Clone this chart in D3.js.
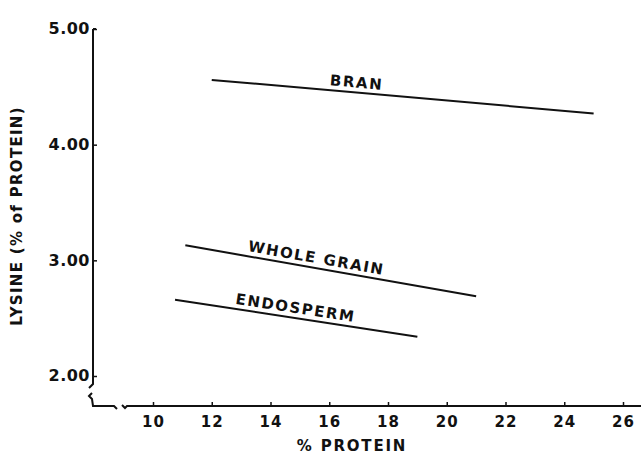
<!DOCTYPE html>
<html>
<head>
<meta charset="utf-8">
<script src="https://cdn.jsdelivr.net/npm/d3@7/dist/d3.min.js"></script>
<style>
  body { margin: 0; background: #fff; }
  text { font-family: "DejaVu Sans", sans-serif; font-weight: bold; fill: #111; }
</style>
</head>
<body>
<div id="chart"></div>
<script>
// series (lysine vs protein, straight regression lines)
var seriesNames = ["BRAN", "WHOLE GRAIN", "ENDOSPERM"];
var proteinStart = [12.0, 11.1, 10.75];
var proteinEnd = [25.0, 21.0, 19.0];
var lysineStart = [4.56, 3.13, 2.66];
var lysineEnd = [4.27, 2.69, 2.34];
var labelAt = [16.9, 15.5, 14.8];

var xTicks = [10, 12, 14, 16, 18, 20, 22, 24, 26];
var yTicks = [2, 3, 4, 5];

var width = 644, height = 456;

var x = d3.scaleLinear().domain([10, 26]).range([153, 623]);
var y = d3.scaleLinear().domain([2, 5]).range([376, 29]);

var svg = d3.select("#chart").append("svg")
    .attr("width", width)
    .attr("height", height);

var axisX0 = 93, axisY0 = 406;

// y axis ticks and labels
var yAxis = d3.axisLeft(y)
    .tickValues(yTicks)
    .tickFormat(d3.format(".2f"))
    .tickSizeInner(-4)
    .tickSizeOuter(0)
    .tickPadding(3);

var gy = svg.append("g")
    .attr("transform", "translate(" + axisX0 + ",0)")
    .call(yAxis);
gy.select(".domain").remove();
gy.selectAll("line").attr("stroke", "#111").attr("stroke-width", 1.5);
gy.selectAll("text")
    .style("font-size", "16px")
    .style("letter-spacing", "0.5px")
    .attr("dy", "0.3em");

// x axis ticks and labels
var xAxis = d3.axisBottom(x)
    .tickValues(xTicks)
    .tickFormat(d3.format("d"))
    .tickSizeInner(-4)
    .tickSizeOuter(0)
    .tickPadding(10);

var gx = svg.append("g")
    .attr("transform", "translate(0," + axisY0 + ")")
    .call(xAxis);
gx.select(".domain").remove();
gx.selectAll("line").attr("stroke", "#111").attr("stroke-width", 1.5);
gx.selectAll("text")
    .style("font-size", "15px")
    .style("letter-spacing", "1px");

// axis lines with scale breaks near the origin
var axisPath = [
    "M" + axisX0 + "," + y(5) + " L" + axisX0 + "," + (y(2) + 8) + " l-4,4",
    "M" + (axisX0 - 1) + "," + (y(2) + 17) + " l-3,3 l3,3 L" + axisX0 + "," + axisY0 +
        " L" + (axisX0 + 21) + "," + axisY0 + " l3,3",
    "M" + (axisX0 + 29) + "," + (axisY0 - 1) + " l3,3 l2,-2 L" + (x(26) + 18) + "," + axisY0
].join(" ");

svg.append("path")
    .attr("d", axisPath)
    .attr("fill", "none")
    .attr("stroke", "#111")
    .attr("stroke-width", 2);

// top hook on y axis
svg.append("path")
    .attr("d", "M" + axisX0 + "," + y(5) + " l3,0")
    .attr("stroke", "#111")
    .attr("stroke-width", 2);

// series lines
var series = seriesNames.map(function (name, i) {
    return {
        name: name,
        points: [[proteinStart[i], lysineStart[i]], [proteinEnd[i], lysineEnd[i]]],
        labelAt: labelAt[i]
    };
});

var line = d3.line()
    .x(function (d) { return x(d[0]); })
    .y(function (d) { return y(d[1]); });

svg.selectAll(".series")
    .data(series)
    .enter()
    .append("path")
    .attr("class", "series")
    .attr("d", function (d) { return line(d.points); })
    .attr("fill", "none")
    .attr("stroke", "#111")
    .attr("stroke-width", 2);

// labels sit just above each line, tilted with it
svg.selectAll(".series-label")
    .data(series)
    .enter()
    .append("text")
    .attr("class", "series-label")
    .attr("transform", function (d) {
        var p0 = d.points[0], p1 = d.points[1];
        var t = (d.labelAt - p0[0]) / (p1[0] - p0[0]);
        var ly = p0[1] + t * (p1[1] - p0[1]);
        var angle = Math.atan2(y(p1[1]) - y(p0[1]), x(p1[0]) - x(p0[0])) * 180 / Math.PI;
        return "translate(" + x(d.labelAt) + "," + y(ly) + ") rotate(" + angle + ") translate(0,-5)";
    })
    .attr("text-anchor", "middle")
    .style("font-size", "15px")
    .style("letter-spacing", "1.6px")
    .text(function (d) { return d.name; });

// axis titles
svg.append("text")
    .attr("x", 352)
    .attr("y", 451)
    .attr("text-anchor", "middle")
    .style("font-size", "15px")
    .style("letter-spacing", "1.8px")
    .text("% PROTEIN");

svg.append("text")
    .attr("transform", "translate(17,216) rotate(-90)")
    .attr("text-anchor", "middle")
    .attr("dy", "0.36em")
    .style("font-size", "15px")
    .style("letter-spacing", "1.3px")
    .text("LYSINE (% of PROTEIN)");
</script>
</body>
</html>
